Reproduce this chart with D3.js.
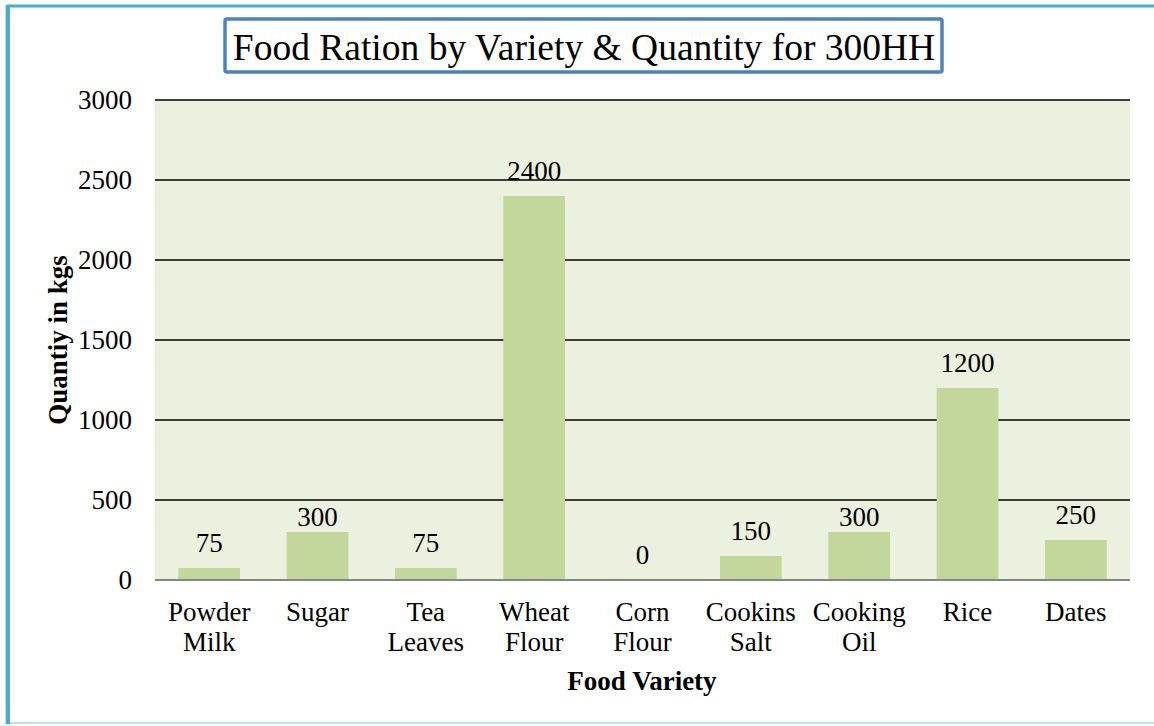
<!DOCTYPE html>
<html>
<head>
<meta charset="utf-8">
<script src="https://cdnjs.cloudflare.com/ajax/libs/d3/7.8.5/d3.min.js"></script>
<style>
  body { margin: 0; background: #fff; }
  text { font-family: "Times New Roman", "Liberation Serif", serif; fill: #000; }
</style>
</head>
<body>
<svg id="chart"></svg>
<script>
// chart values
var categories = [
    ["Powder", "Milk"], ["Sugar"], ["Tea", "Leaves"], ["Wheat", "Flour"],
    ["Corn", "Flour"], ["Cookins", "Salt"], ["Cooking", "Oil"], ["Rice"], ["Dates"]
];
var quantities = [75, 300, 75, 2400, 0, 150, 300, 1200, 250];
var yTicks = [0, 500, 1000, 1500, 2000, 2500, 3000];

var settings = { width: 1154, height: 726 };
var margin = { top: 100, right: 24, bottom: 146, left: 155 };
var fontSize = 27;

var svg = d3.select("#chart")
    .attr("width", settings.width)
    .attr("height", settings.height);

// outer frame
svg.append("rect")
    .attr("x", 6).attr("y", 6)
    .attr("width", 1160).attr("height", 717)
    .attr("fill", "none")
    .attr("stroke", "#a9d4e4")
    .attr("stroke-width", 1.5);
svg.append("line")
    .attr("x1", 7).attr("x2", 1154).attr("y1", 6).attr("y2", 6)
    .attr("stroke", "#4bacc6").attr("stroke-width", 3);
svg.append("line")
    .attr("x1", 8).attr("x2", 8).attr("y1", 5).attr("y2", 724)
    .attr("stroke", "#4bacc6").attr("stroke-width", 4);

var plotW = settings.width - margin.left - margin.right;
var plotH = settings.height - margin.top - margin.bottom;

var x = d3.scaleBand()
    .domain(d3.range(categories.length))
    .range([margin.left, margin.left + plotW])
    .paddingInner(0.43)
    .paddingOuter(0.215);

var y = d3.scaleLinear()
    .domain([0, 3000])
    .range([margin.top + plotH, margin.top]);

// plot background
svg.append("rect")
    .attr("x", margin.left).attr("y", margin.top)
    .attr("width", plotW).attr("height", plotH)
    .attr("fill", "#ebf1de");

// gridlines
svg.append("g")
    .selectAll("line")
    .data(yTicks.filter(d => d > 0))
    .join("line")
    .attr("x1", margin.left).attr("x2", margin.left + plotW)
    .attr("y1", d => y(d)).attr("y2", d => y(d))
    .attr("stroke", "#000").attr("stroke-width", 1.6);

// bars
svg.append("g")
    .selectAll("rect")
    .data(quantities)
    .join("rect")
    .attr("x", (d, i) => x(i))
    .attr("width", x.bandwidth())
    .attr("y", d => y(d))
    .attr("height", d => y(0) - y(d))
    .attr("fill", "#c3d69b");

// baseline
svg.append("line")
    .attr("x1", margin.left).attr("x2", margin.left + plotW)
    .attr("y1", y(0)).attr("y2", y(0))
    .attr("stroke", "#868686").attr("stroke-width", 2);

// data labels (excel nudged the 300 labels down a little)
svg.append("g")
    .selectAll("text")
    .data(quantities)
    .join("text")
    .attr("x", (d, i) => x(i) + x.bandwidth() / 2)
    .attr("y", d => y(d) - (d === 300 ? 6 : 16))
    .attr("text-anchor", "middle")
    .attr("font-size", fontSize)
    .text(d => d);

// y axis labels
svg.append("g")
    .selectAll("text")
    .data(yTicks)
    .join("text")
    .attr("x", 132)
    .attr("y", d => y(d))
    .attr("dy", "0.35em")
    .attr("text-anchor", "end")
    .attr("font-size", fontSize)
    .text(d => d);

// x axis labels
var xl = svg.append("g")
    .selectAll("text")
    .data(categories)
    .join("text")
    .attr("x", (d, i) => x(i) + x.bandwidth() / 2)
    .attr("y", 621)
    .attr("text-anchor", "middle")
    .attr("font-size", fontSize);
xl.selectAll("tspan")
    .data(d => d)
    .join("tspan")
    .attr("x", function() { return d3.select(this.parentNode).attr("x"); })
    .attr("dy", (d, i) => i === 0 ? 0 : 30)
    .text(d => d);

// axis titles
svg.append("text")
    .attr("x", 642).attr("y", 690)
    .attr("text-anchor", "middle")
    .attr("font-size", fontSize)
    .attr("font-weight", "bold")
    .text("Food Variety");

svg.append("text")
    .attr("transform", "translate(67,340) rotate(-90)")
    .attr("text-anchor", "middle")
    .attr("font-size", fontSize)
    .attr("font-weight", "bold")
    .text("Quantiy in kgs");

// title box
svg.append("rect")
    .attr("x", 225).attr("y", 19)
    .attr("width", 717).attr("height", 53)
    .attr("rx", 2)
    .attr("fill", "#fff")
    .attr("stroke", "#4f81bd").attr("stroke-width", 3.5);
svg.append("text")
    .attr("x", 584).attr("y", 60)
    .attr("text-anchor", "middle")
    .attr("font-size", 37.5)
    .text("Food Ration by Variety & Quantity for 300HH");
</script>
</body>
</html>
